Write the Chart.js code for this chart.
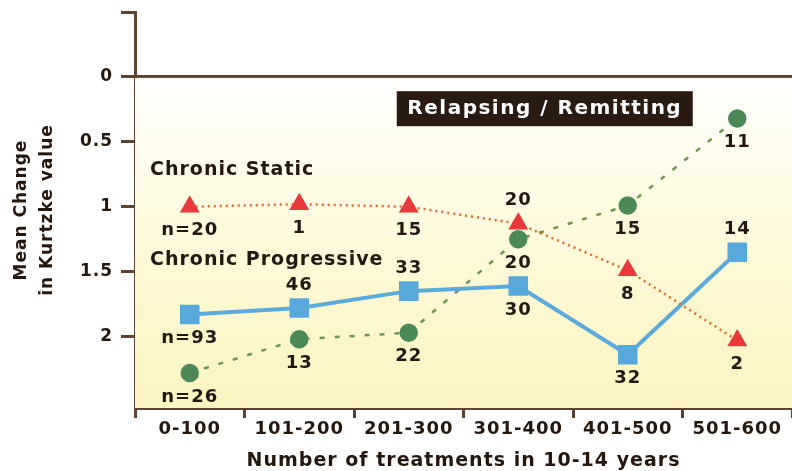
<!DOCTYPE html>
<html>
<head>
<meta charset="UTF-8">
<title>Mean change in Kurtzke value</title>
<script src="https://cdn.jsdelivr.net/npm/chart.js"></script>
<style>
  html, body { margin: 0; padding: 0; background: #ffffff; }
  canvas { display: block; }
</style>
</head>
<body>
<canvas id="chart" width="792" height="471"></canvas>
<script>
const categories = ['0-100', '101-200', '201-300', '301-400', '401-500', '501-600'];
const chronicStatic = [1.0, 0.98, 1.0, 1.13, 1.49, 2.03];
const chronicProgressive = [1.83, 1.78, 1.65, 1.61, 2.14, 1.35];
const relapsingRemitting = [2.28, 2.02, 1.97, 1.25, 0.99, 0.32];
const staticCounts = ['n=20', '1', '15', '20', '8', '2'];
const progressiveCounts = ['n=93', '46', '33', '30', '32', '14'];
const relapsingCounts = ['n=26', '13', '22', '20', '15', '11'];
const yTicks = [-0.5, 0, 0.5, 1, 1.5, 2];

const INK = '#24170f';
const AXIS = '#5e4232';
const FONT = '"DejaVu Sans", sans-serif';

// ctx state is set here so the scale text gets the same wide look
const spacingPlugin = {
  id: 'spacing',
  beforeDraw(chart) {
    chart.ctx.letterSpacing = '1px';
  }
};

const backdropPlugin = {
  id: 'backdrop',
  beforeDatasetsDraw(chart) {
    const { ctx, chartArea } = chart;
    const y0 = chart.scales.y.getPixelForValue(0);
    const g = ctx.createLinearGradient(0, y0, 0, chartArea.bottom);
    g.addColorStop(0, '#ffffff');
    g.addColorStop(0.3, '#fefce8');
    g.addColorStop(0.65, '#fdf8d2');
    g.addColorStop(1, '#fcf4c0');
    ctx.save();
    ctx.fillStyle = g;
    ctx.fillRect(chartArea.left, y0 + 1, chartArea.right - chartArea.left, chartArea.bottom - y0 - 1);
    ctx.restore();
  }
};

const labelPlugin = {
  id: 'pointLabels',
  afterDatasetsDraw(chart) {
    const { ctx, chartArea } = chart;
    const y = chart.scales.y;
    ctx.save();
    ctx.letterSpacing = '1px';
    ctx.textAlign = 'center';
    ctx.textBaseline = 'middle';
    ctx.font = 'bold 18px ' + FONT;
    ctx.fillStyle = INK;
    chart.data.datasets.forEach((ds, i) => {
      const meta = chart.getDatasetMeta(i);
      meta.data.forEach((pt, j) => {
        const up = ds.labelSide[j] === 'above';
        ctx.fillText(ds.counts[j], pt.x, pt.y + (up ? -23 : 24));
      });
    });

    // series names
    ctx.textAlign = 'left';
    ctx.font = 'bold 19px ' + FONT;
    ctx.fillText('Chronic Static', chartArea.left + 15, y.getPixelForValue(0.72));
    ctx.fillText('Chronic Progressive', chartArea.left + 15, y.getPixelForValue(1.41));

    const bx = chart.scales.x.getPixelForValue(2) - 12;
    const by = y.getPixelForValue(0.11);
    ctx.fillStyle = '#2a1b12';
    ctx.fillRect(bx, by, 296, 35);
    ctx.fillStyle = '#ffffff';
    ctx.font = 'bold 20px ' + FONT;
    ctx.letterSpacing = '1.5px';
    ctx.textAlign = 'center';
    ctx.fillText('Relapsing / Remitting', bx + 148, by + 18);
    ctx.restore();
  }
};

new Chart(document.getElementById('chart'), {
  type: 'line',
  data: {
    labels: categories,
    datasets: [
      {
        label: 'Chronic Static',
        data: chronicStatic,
        counts: staticCounts,
        labelSide: ['below', 'below', 'below', 'above', 'below', 'below'],
        borderColor: '#e8672e',
        borderWidth: 2.5,
        borderDash: [2, 4],
        pointStyle: 'triangle',
        pointRadius: 9,
        pointBackgroundColor: '#e8393b',
        pointBorderColor: '#e8393b',
        tension: 0
      },
      {
        label: 'Chronic Progressive',
        data: chronicProgressive,
        counts: progressiveCounts,
        labelSide: ['below', 'above', 'above', 'below', 'below', 'above'],
        borderColor: '#5aaadd',
        borderWidth: 4,
        pointStyle: 'rect',
        pointRadius: 11,
        pointBackgroundColor: '#58a8dc',
        pointBorderColor: '#58a8dc',
        tension: 0
      },
      {
        label: 'Relapsing / Remitting',
        data: relapsingRemitting,
        counts: relapsingCounts,
        labelSide: ['below', 'below', 'below', 'below', 'below', 'below'],
        borderColor: '#6f9552',
        borderWidth: 2.5,
        borderDash: [5, 10],
        pointStyle: 'circle',
        pointRadius: 8,
        pointBackgroundColor: '#4b8a58',
        pointBorderColor: '#4b8a58',
        tension: 0
      }
    ]
  },
  options: {
    responsive: false,
    animation: false,
    layout: { autoPadding: false, padding: { top: 12, right: 0, left: 0, bottom: 0 } },
    plugins: {
      legend: { display: false },
      tooltip: { enabled: false }
    },
    scales: {
      x: {
        offset: true,
        afterFit: s => { s.height = 63; s.paddingLeft = 0; s.paddingRight = 0; },
        border: { color: AXIS, width: 3 },
        grid: {
          offset: true,
          drawOnChartArea: false,
          tickLength: 10,
          tickColor: AXIS,
          tickWidth: 3
        },
        ticks: {
          color: INK,
          padding: 1,
          maxRotation: 0,
          font: { family: FONT, size: 18, weight: 'bold' }
        },
        title: {
          display: true,
          text: 'Number of treatments in 10-14 years',
          color: INK,
          padding: { top: 0, bottom: 0 },
          font: { family: FONT, size: 19, weight: 'bold', lineHeight: 1 }
        }
      },
      y: {
        reverse: true,
        min: -0.5,
        max: 2.55,
        afterFit: s => { s.width = 135; s.paddingTop = 0; s.paddingBottom = 0; },
        afterBuildTicks: s => { s.ticks = yTicks.map(v => ({ value: v })); },
        border: { color: AXIS, width: 3 },
        grid: {
          color: c => (c.tick && c.tick.value === 0 ? AXIS : 'rgba(0,0,0,0)'),
          lineWidth: 3,
          tickLength: 14,
          tickColor: AXIS,
          tickWidth: 3
        },
        ticks: {
          color: INK,
          padding: 8,
          font: { family: FONT, size: 17, weight: 'bold' },
          callback: v => (v === -0.5 ? '' : String(v))
        },
        title: {
          display: true,
          text: ['Mean Change', 'in Kurtzke value'],
          color: INK,
          padding: { top: 9, bottom: 0 },
          font: { family: FONT, size: 17, weight: 'bold', lineHeight: 1.53 }
        }
      }
    }
  },
  plugins: [spacingPlugin, backdropPlugin, labelPlugin]
});
</script>
</body>
</html>
